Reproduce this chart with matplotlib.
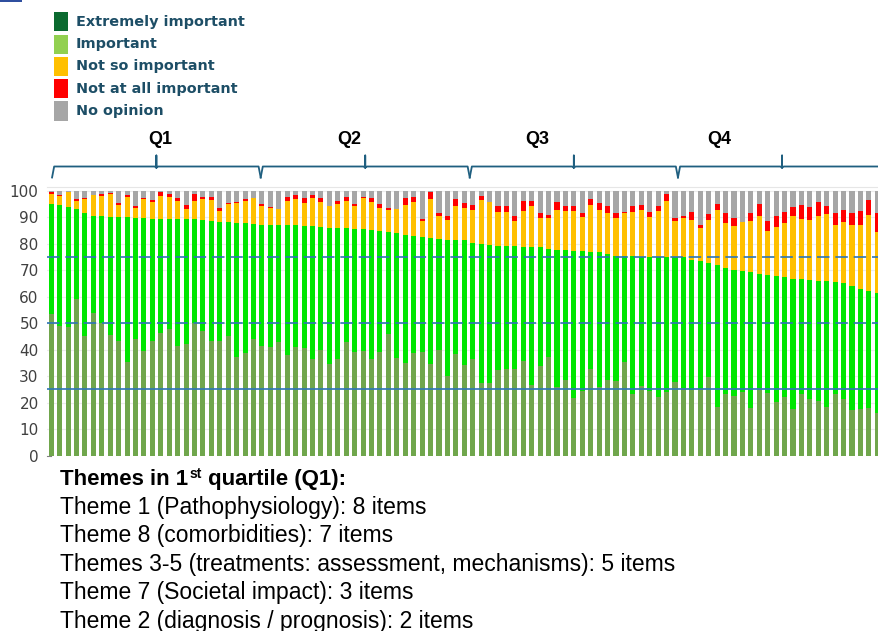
import matplotlib
matplotlib.use('Agg')
import matplotlib.pyplot as plt
import matplotlib.transforms as mtransforms
from matplotlib.patches import Rectangle
from matplotlib.lines import Line2D
import numpy as np

# ---------------- data (percent of respondents per item, sorted) ----------------
extremely = [53.5, 49.0, 48.5, 59.2, 45.2, 53.9, 50.1, 45.5, 43.2, 35.5,
             44.0, 39.4, 43.5, 46.3, 47.7, 41.3, 42.3, 50.1, 47.1, 43.2,
             43.3, 45.3, 37.2, 38.7, 44.1, 41.4, 41.1, 43.1, 38.0, 41.1,
             40.6, 36.5, 39.8, 34.5, 36.5, 42.8, 39.0, 39.7, 36.5, 39.0,
             46.0, 36.9, 34.9, 38.9, 39.0, 34.6, 39.9, 30.0, 38.3, 34.3,
             36.5, 27.3, 27.3, 32.4, 32.9, 32.9, 35.8, 26.6, 33.8, 37.2,
             25.8, 28.5, 21.7, 24.3, 32.7, 25.9, 28.7, 28.1, 35.3, 23.3,
             26.2, 24.3, 22.0, 23.9, 28.0, 25.4, 24.8, 25.2, 29.8, 18.4,
             23.2, 22.5, 23.9, 17.9, 25.4, 23.7, 20.3, 22.0, 17.6, 23.2,
             21.4, 20.8, 18.4, 23.2, 21.4, 17.1, 17.5, 18.1, 16.1]
important = [41.5, 45.7, 45.5, 34.0, 46.5, 36.7, 40.5, 44.7, 47.0, 54.7,
             45.8, 50.4, 46.0, 43.2, 41.8, 48.2, 47.2, 39.2, 41.8, 45.5,
             45.0, 43.0, 50.7, 49.1, 43.4, 45.9, 46.2, 44.2, 49.0, 45.9,
             46.0, 50.1, 46.6, 51.6, 49.6, 43.2, 46.5, 45.8, 48.8, 45.9,
             38.5, 47.2, 48.5, 44.1, 43.6, 47.6, 42.0, 51.6, 43.3, 47.3,
             44.0, 52.7, 52.4, 46.9, 46.3, 46.3, 43.0, 52.2, 45.0, 40.9,
             51.9, 49.1, 55.6, 53.0, 44.1, 50.9, 47.6, 47.5, 40.3, 52.1,
             49.0, 50.9, 53.2, 51.3, 47.2, 49.8, 49.0, 48.2, 43.0, 53.6,
             47.7, 47.7, 45.9, 51.4, 43.2, 44.7, 47.7, 45.5, 49.0, 43.4,
             45.0, 45.1, 47.5, 42.5, 43.8, 46.9, 45.3, 44.1, 45.5]
not_so = [3.7, 3.5, 5.7, 3.1, 5.3, 7.8, 7.5, 8.7, 4.4, 7.7,
          3.9, 7.1, 6.2, 8.7, 8.4, 6.7, 3.7, 7.0, 8.1, 8.0,
          4.1, 6.9, 7.6, 8.5, 9.7, 7.2, 6.3, 5.8, 9.2, 10.0,
          9.0, 10.9, 9.6, 8.1, 9.1, 10.3, 8.7, 11.7, 10.4, 8.6,
          8.2, 9.0, 11.4, 12.7, 6.2, 14.9, 8.8, 7.6, 12.6, 11.9,
          12.3, 16.5, 16.0, 12.9, 13.0, 9.6, 13.8, 15.5, 11.0, 11.8,
          15.2, 15.0, 15.0, 12.9, 17.9, 16.0, 15.3, 14.1, 16.0, 16.8,
          17.6, 15.0, 17.2, 21.0, 13.3, 14.6, 15.4, 12.5, 16.1, 20.8,
          16.9, 16.7, 18.6, 19.5, 22.0, 16.4, 18.4, 20.5, 24.0, 22.9,
          22.5, 24.5, 25.4, 21.3, 23.1, 23.0, 24.5, 28.6, 23.0]
not_at_all = [1.0, 0.4, 0.0, 0.6, 0.5, 0.0, 0.8, 0.3, 0.9, 0.6,
              0.8, 0.5, 0.8, 1.3, 0.8, 1.3, 1.5, 2.4, 0.7, 1.0,
              1.2, 0.4, 0.3, 0.7, 0.0, 0.7, 0.4, 0.0, 1.5, 1.5,
              1.6, 1.0, 1.5, 0.0, 1.1, 1.6, 1.0, 0.7, 1.7, 1.6,
              1.0, 0.0, 2.7, 2.2, 0.7, 2.4, 1.0, 1.2, 2.7, 1.8,
              1.9, 1.6, 0.0, 2.3, 2.3, 1.8, 3.5, 1.9, 1.9, 1.1,
              2.9, 1.7, 1.9, 1.5, 2.3, 2.8, 2.7, 2.1, 0.6, 2.3,
              2.0, 2.0, 1.8, 2.8, 1.2, 0.8, 3.0, 1.3, 2.4, 2.4,
              3.9, 3.0, 0.0, 2.9, 4.5, 3.7, 4.2, 3.9, 3.4, 5.1,
              5.1, 5.4, 2.9, 4.7, 4.5, 4.7, 5.0, 5.7, 7.1]
no_opinion = [0.3, 1.4, 0.3, 3.1, 2.5, 1.6, 1.1, 0.8, 4.5, 1.5,
              5.5, 2.6, 3.5, 0.5, 1.3, 2.5, 5.3, 1.3, 2.3, 2.3,
              6.4, 4.4, 4.2, 3.0, 2.8, 4.8, 6.0, 6.9, 2.3, 1.5,
              2.8, 1.5, 2.5, 5.8, 3.7, 2.1, 4.8, 2.1, 2.6, 4.9,
              6.3, 6.9, 2.5, 2.1, 10.5, 0.5, 8.3, 9.6, 3.1, 4.7,
              5.3, 1.9, 4.3, 5.5, 5.5, 9.4, 3.9, 3.8, 8.3, 9.0,
              4.2, 5.7, 5.8, 8.3, 3.0, 4.4, 5.7, 8.2, 7.8, 5.5,
              5.2, 7.8, 5.8, 1.0, 10.3, 9.4, 7.8, 12.8, 8.7, 4.8,
              8.3, 10.1, 11.6, 8.3, 4.9, 11.5, 9.4, 8.1, 6.0, 5.4,
              6.0, 4.2, 5.8, 8.3, 7.2, 8.3, 7.7, 3.5, 8.3]

legend_labels = ["Extremely important", "Important", "Not so important",
                 "Not at all important", "No opinion"]
legend_colors = ['#0B6A2F', '#92D050', '#FFC000', '#FF0000', '#A6A6A6']
bar_colors = ['#70A64C', '#00E600', '#FFC000', '#FF0000', '#A6A6A6']
yticks = list(range(0, 101, 10))
reference_levels = [25, 50, 75]
quartile_labels = ['Q1', 'Q2', 'Q3', 'Q4']
quartile_bounds = [0.1, 24.85, 49.65, 74.35, 99.05]
quartile_label_x = [12.9, 35.4, 57.6, 79.3]
theme_heading = ("Themes in 1", "st", " quartile (Q1):")
theme_lines = ["Theme 1 (Pathophysiology): 8 items",
               "Theme 8 (comorbidities): 7 items",
               "Themes 3-5 (treatments: assessment, mechanisms): 5 items",
               "Theme 7 (Societal impact): 3 items",
               "Theme 2 (diagnosis / prognosis): 2 items"]

# ---------------- figure ----------------
W, H = 879, 631
fig = plt.figure(figsize=(W / 100, H / 100), dpi=100)


def fx(p):
    return p / W


def fy(p):
    return 1 - p / H


ax = fig.add_axes([fx(47), fy(455.6), fx(879 - 47), (455.6 - 186.8) / H])

series = [extremely, important, not_so, not_at_all, no_opinion]
n = len(extremely)
x = np.arange(n)
bottom = np.zeros(n)
for vals, col in zip(series, bar_colors):
    v = np.array(vals)
    ax.bar(x, v, bottom=bottom, width=0.6, color=col, linewidth=0, zorder=2)
    bottom += v

ax.set_xlim(-0.5, 98.2)
ax.set_ylim(0, 101.6)
ax.set_yticks(yticks)
ax.set_yticklabels([str(t) for t in yticks])
ax.set_xticks([])
ax.tick_params(axis='y', which='major', length=0, pad=6, labelsize=11,
               labelcolor='#404040')
for t in yticks[1:]:
    ax.axhline(t, color='#ECECEC', lw=0.8, zorder=1)
for s in ['left', 'right', 'bottom']:
    ax.spines[s].set_visible(False)
ax.spines['top'].set_color('#E6E6E6')
ax.spines['top'].set_linewidth(0.8)
# small tick next to the zero label
ax.add_line(Line2D([-0.55, -0.05], [0, 0], transform=ax.transData,
                   color='#808080', lw=0.8, clip_on=False))

for lvl in reference_levels:
    if lvl == 25:
        ax.axhline(lvl, color='#2E75B6', lw=1.2, zorder=4)
    else:
        ax.axhline(lvl, color='#2E75B6', lw=1.2, zorder=4,
                   dashes=(7.5, 3.5))

# ---------------- quartile braces ----------------
trans = mtransforms.blended_transform_factory(ax.transData, fig.transFigure)
y_line, y_end, y_top = fy(166.5), fy(177.5), fy(155.5)
brace_col = '#1F5F80'
for i in range(4):
    b0, b1 = quartile_bounds[i], quartile_bounds[i + 1]
    mid = (b0 + b1) / 2
    xs = [b0, b0 + 0.25, mid - 0.2, mid, mid, mid, mid + 0.2, b1 - 0.25, b1]
    ys = [y_end, y_line, y_line, y_line - 0.002, y_top, y_line - 0.002,
          y_line, y_line, y_end]
    ax.add_line(Line2D(xs, ys, transform=trans, color=brace_col, lw=1.3,
                       clip_on=False, solid_joinstyle='round'))
    ax.text(quartile_label_x[i], fy(139), quartile_labels[i], transform=trans,
            ha='center', va='center', fontsize=13, fontweight='bold',
            family='Liberation Sans', color='black')

# ---------------- legend ----------------
for k, (lab, col) in enumerate(zip(legend_labels, legend_colors)):
    cy = 21.8 + k * 22.3
    fig.add_artist(Rectangle((fx(54), fy(cy + 9.5)), fx(14), 19 / H,
                             transform=fig.transFigure, facecolor=col,
                             edgecolor='none'))
    fig.text(fx(76), fy(cy), lab, ha='left', va='center', fontsize=10.4,
             fontweight='bold', family='DejaVu Sans', color='#1D4E66')

# small blue mark at top-left corner
fig.add_artist(Rectangle((0, fy(2)), fx(22), 2 / H, transform=fig.transFigure,
                         facecolor='#2F4F9F', edgecolor='none'))

# ---------------- theme text ----------------
tfont = 'Liberation Sans'
renderer = fig.canvas.get_renderer()
base_y = fy(485)
t1 = fig.text(fx(60), base_y, theme_heading[0], ha='left', va='baseline',
              fontsize=16, fontweight='bold', family=tfont, color='black')
bb1 = t1.get_window_extent(renderer)
t2 = fig.text(bb1.x1 / fig.bbox.width + fx(1), base_y + 7 / H,
              theme_heading[1], ha='left', va='baseline', fontsize=10,
              fontweight='bold', family=tfont, color='black')
bb2 = t2.get_window_extent(renderer)
fig.text(bb2.x1 / fig.bbox.width, base_y, theme_heading[2], ha='left',
         va='baseline', fontsize=16, fontweight='bold', family=tfont,
         color='black')
for j, line in enumerate(theme_lines):
    fig.text(fx(60), fy(514 + j * 28.4), line, ha='left', va='baseline',
             fontsize=16.5, family=tfont, color='black')

fig.savefig('out.png', dpi=100)
